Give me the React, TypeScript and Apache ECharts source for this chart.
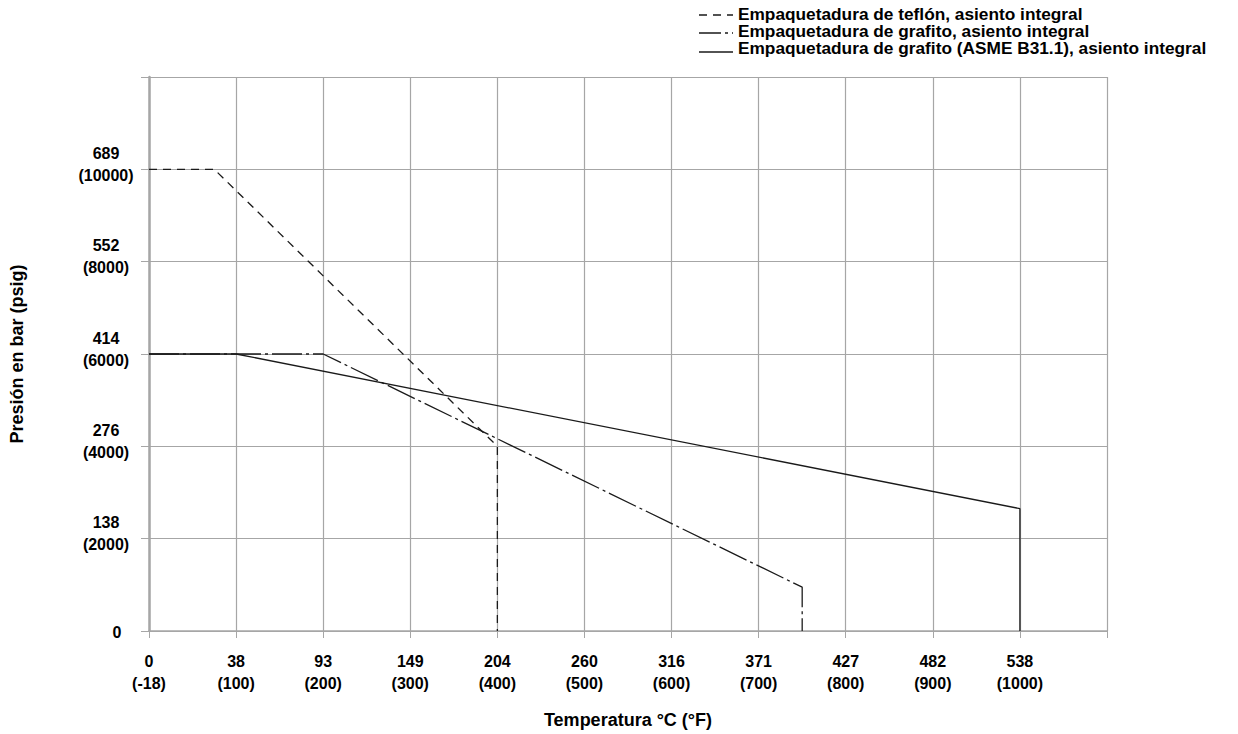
import React, { useEffect, useRef } from "react";
import * as echarts from "echarts";

// Temperature in °F, pressure in psig
const teflonF = [0, 75, 400, 400];
const teflonPsig = [10000, 10000, 4000, 0];
const grafitoF = [0, 200, 750, 750];
const grafitoPsig = [6000, 6000, 950, 0];
const asmeF = [0, 100, 1000, 1000];
const asmePsig = [6000, 6000, 2650, 0];

const xTickValues = [0, 100, 200, 300, 400, 500, 600, 700, 800, 900, 1000];
const xTickLabels = ["0\n(-18)", "38\n(100)", "93\n(200)", "149\n(300)", "204\n(400)", "260\n(500)", "316\n(600)", "371\n(700)", "427\n(800)", "482\n(900)", "538\n(1000)"];
const yTickValues = [0, 2000, 4000, 6000, 8000, 10000];
const yTickLabels = ["0", "138\n(2000)", "276\n(4000)", "414\n(6000)", "552\n(8000)", "689\n(10000)"];

const seriesNames = [
  "Empaquetadura de teflón, asiento integral",
  "Empaquetadura de grafito, asiento integral",
  "Empaquetadura de grafito (ASME B31.1), asiento integral",
];
const seriesDash: any[] = [[8, 6], [30, 4, 3, 4], "solid"];

const FONT = "'Liberation Sans', Arial, sans-serif";
const LINE_COLOR = "#1a1a1a";
const GRID_COLOR = "#a6a6a6";

function zip(xs: number[], ys: number[]) {
  return xs.map((x, i) => [x, ys[i]]);
}

export default function App() {
  const ref = useRef<HTMLDivElement>(null);
  useEffect(() => {
    if (!ref.current) return;
    document.body.style.margin = "0";
    const chart = echarts.init(ref.current, undefined, { renderer: "svg" });
    const legendLineRows = [15, 33, 52];
    const legendTextRows = [15, 32, 49];
    const legendGraphics: any[] = [];
    seriesNames.forEach((name, i) => {
      const dash = seriesDash[i];
      legendGraphics.push({
        type: "line",
        shape: { x1: 699, y1: legendLineRows[i], x2: 733, y2: legendLineRows[i] },
        style: { stroke: LINE_COLOR, lineWidth: 1.3, lineDash: dash === "solid" ? null : i === 1 ? [22, 4, 3, 4] : dash },
      });
      legendGraphics.push({
        type: "text",
        x: 738,
        y: legendTextRows[i],
        scaleX: 1.08,
        style: {
          text: name,
          fontFamily: FONT,
          fontWeight: "bold",
          fontSize: 16,
          fill: "#000",
          verticalAlign: "middle",
          align: "left",
        },
      });
    });
    chart.setOption({
      animation: false,
      backgroundColor: "#ffffff",
      textStyle: { fontFamily: FONT },
      grid: { left: 148, right: 131, top: 77, bottom: 103 },
      graphic: legendGraphics,
      xAxis: {
        type: "value",
        min: 0,
        max: 1100,
        interval: 100,
        name: "Temperatura °C (°F)",
        nameLocation: "middle",
        nameGap: 80,
        nameTextStyle: { fontFamily: FONT, fontWeight: "bold", fontSize: 18, color: "#000" },
        axisLine: { show: true, lineStyle: { color: GRID_COLOR, width: 1.5 } },
        axisTick: { show: true, length: 7, lineStyle: { color: GRID_COLOR } },
        splitLine: { show: true, lineStyle: { color: GRID_COLOR, width: 1.2 } },
        axisLabel: {
          margin: 19,
          fontFamily: FONT,
          fontWeight: "bold",
          fontSize: 16,
          lineHeight: 22,
          color: "#000",
          formatter: (v: number) => {
            const i = xTickValues.indexOf(v);
            return i >= 0 ? xTickLabels[i] : "";
          },
        },
      },
      yAxis: {
        type: "value",
        min: 0,
        max: 12000,
        interval: 2000,
        name: "Presión en bar (psig)",
        nameLocation: "middle",
        nameGap: 123,
        nameTextStyle: { fontFamily: FONT, fontWeight: "bold", fontSize: 18, color: "#000" },
        axisLine: { show: true, lineStyle: { color: GRID_COLOR, width: 2.5 } },
        axisTick: { show: true, length: 8, lineStyle: { color: GRID_COLOR } },
        splitLine: { show: true, lineStyle: { color: GRID_COLOR, width: 1.2 } },
        axisLabel: {
          margin: 43,
          align: "center",
          fontFamily: FONT,
          fontWeight: "bold",
          fontSize: 16,
          lineHeight: 22,
          color: "#000",
          padding: [0, 0, 10, 0],
          rich: {
            z: { fontFamily: FONT, fontWeight: "bold", fontSize: 16, color: "#000", padding: [12, 0, 0, 22] },
          },
          formatter: (v: number) => {
            const i = yTickValues.indexOf(v);
            if (i < 0) return "";
            return v === 0 ? "{z|" + yTickLabels[i] + "}" : yTickLabels[i];
          },
        },
      },
      series: seriesNames.map((name, i) => ({
        name,
        type: "line",
        symbol: "none",
        data: [zip(teflonF, teflonPsig), zip(grafitoF, grafitoPsig), zip(asmeF, asmePsig)][i],
        lineStyle: { color: LINE_COLOR, width: 1.3, type: seriesDash[i] },
        itemStyle: { color: LINE_COLOR },
      })),
    });
    return () => chart.dispose();
  }, []);
  return <div ref={ref} style={{ width: 1238, height: 734 }} />;
}
